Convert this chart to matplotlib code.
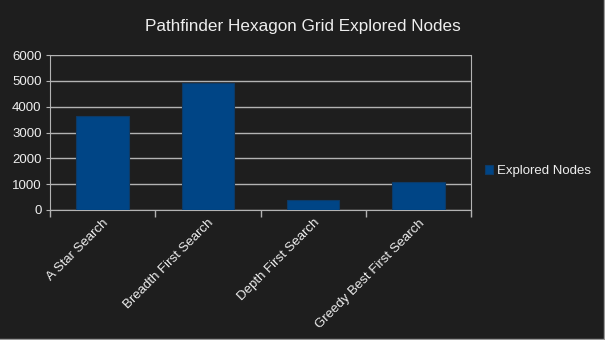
import matplotlib.pyplot as plt
import numpy as np

# data
categories = ['A Star Search', 'Breadth First Search', 'Depth First Search', 'Greedy Best First Search']
explored_nodes = [3630, 4900, 390, 1070]
y_ticks = [0, 1000, 2000, 3000, 4000, 5000, 6000]

bg = '#1e1e1e'
txt = '#eeeeee'
grid_c = '#b3b3b3'
bar_c = '#004586'

plt.rcParams['font.family'] = ['Liberation Sans', 'DejaVu Sans']

fig = plt.figure(figsize=(6.05, 3.4), dpi=100, facecolor=bg)
ax = fig.add_axes([50 / 605, 1 - 210 / 340, 421 / 605, 155 / 340], facecolor=bg)

x = np.arange(len(categories))
ax.bar(x, explored_nodes, width=0.5, color=bar_c, edgecolor='#0d3a66', linewidth=0.8,
       label='Explored Nodes', zorder=3)

ax.set_xlim(-0.5, len(categories) - 0.5)
ax.set_ylim(0, 6000)
ax.set_yticks(y_ticks)
ax.yaxis.grid(True, color=grid_c, linewidth=1, zorder=0)

# category ticks at the boundaries
ax.set_xticks(np.arange(len(categories) + 1) - 0.5)
ax.set_xticklabels([])
ax.set_xticks(x, minor=True)
ax.set_xticklabels(categories, minor=True, rotation=45, ha='right', rotation_mode='anchor',
                   color=txt, fontsize=9.5)
ax.tick_params(axis='x', which='minor', length=0, pad=5)
ax.tick_params(axis='x', which='major', length=5, color=grid_c, width=1)
ax.tick_params(axis='y', length=3, color=grid_c, labelcolor=txt, labelsize=9.5, pad=3)

for side in ['left', 'right', 'bottom']:
    ax.spines[side].set_color(grid_c)
ax.spines['top'].set_visible(False)

fig.text(0.5, 1 - 27 / 340, 'Pathfinder Hexagon Grid Explored Nodes', color=txt,
         fontsize=12.3, ha='center', va='center')

leg = ax.legend(loc='center left', bbox_to_anchor=(1.005, 0.25), frameon=False,
                handlelength=0.6, handleheight=0.6, handletextpad=0.3, fontsize=9.5)
for t in leg.get_texts():
    t.set_color(txt)

# thin frame on the right and bottom edge of the picture
fig.add_artist(plt.Line2D([0, 1], [0.0015, 0.0015], color='#9a9a9a', lw=1, transform=fig.transFigure))
fig.add_artist(plt.Line2D([0.999, 0.999], [0, 1], color='#9a9a9a', lw=1, transform=fig.transFigure))

fig.savefig('out.png', dpi=100, facecolor=bg)
